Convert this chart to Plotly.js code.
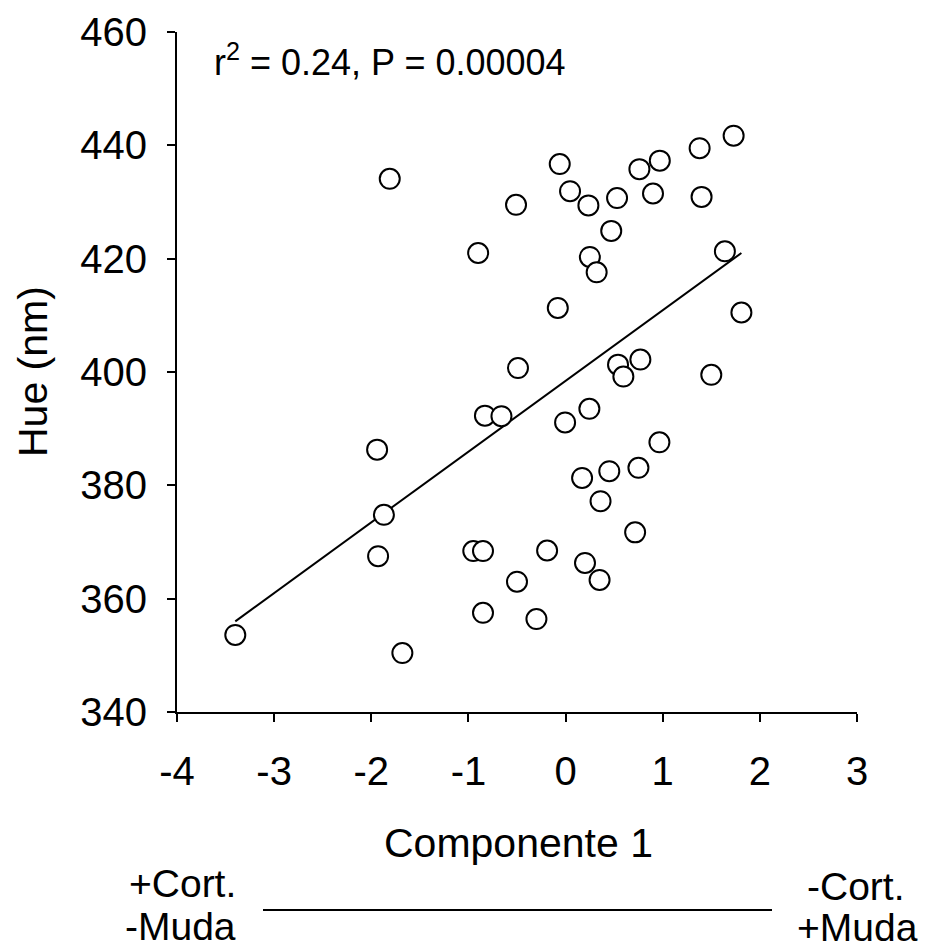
<!DOCTYPE html>
<html>
<head>
<meta charset="utf-8">
<script src="https://cdn.plot.ly/plotly-3.0.1.min.js"></script>
<style>html,body{margin:0;padding:0;background:#fff;}#chart{width:925px;height:951px;}</style>
</head>
<body>
<div id="chart"></div>
<script>
// Componente 1 (x) and Hue in nm (y)
const comp1 = [-3.40, -1.81, -1.94, -1.87, -1.93, -1.68, -0.90, -0.95, -0.85, -0.85,
  -0.83, -0.66, -0.51, -0.49, -0.50, -0.30, -0.19, -0.08, -0.06, -0.005,
  0.046, 0.17, 0.20, 0.235, 0.245, 0.25, 0.32, 0.35, 0.36, 0.45,
  0.47, 0.53, 0.54, 0.595, 0.716, 0.75, 0.76, 0.77, 0.90, 0.966,
  0.97, 1.38, 1.40, 1.50, 1.64, 1.73, 1.81];
const hue = [353.6, 434.1, 386.3, 374.8, 367.5, 350.4, 421.0, 368.4, 368.4, 357.5,
  392.3, 392.2, 429.5, 400.7, 363.0, 356.4, 368.5, 411.3, 436.7, 391.1,
  431.9, 381.3, 366.3, 429.4, 393.5, 420.3, 417.6, 363.3, 377.2, 382.5,
  424.9, 430.7, 401.3, 399.2, 371.7, 383.1, 435.8, 402.2, 431.5, 387.6,
  437.3, 439.5, 430.9, 399.5, 421.3, 441.7, 410.5];
// regression line end points
const fitX = [-3.40, 1.81];
const fitY = [356.0, 421.0];
const xTicks = [-4, -3, -2, -1, 0, 1, 2, 3];
const yTicks = [340, 360, 380, 400, 420, 440, 460];

const FONT = 'Liberation Sans, Arial, Helvetica, sans-serif';

const traces = [
  {x: fitX, y: fitY, mode: 'lines', type: 'scatter',
   line: {color: '#000', width: 2}, hoverinfo: 'skip', showlegend: false},
  {x: comp1, y: hue, mode: 'markers', type: 'scatter',
   marker: {symbol: 'circle', size: 20, color: '#fff', line: {color: '#000', width: 2}},
   showlegend: false, cliponaxis: false}
];

const axisCommon = {
  showgrid: false, zeroline: false, showline: true, linecolor: '#000', linewidth: 2,
  ticks: 'outside', ticklen: 8, tickwidth: 2, tickcolor: '#000',
  tickfont: {family: FONT, size: 40, color: '#000'}, fixedrange: true
};

const layout = {
  width: 925, height: 951,
  paper_bgcolor: '#fff', plot_bgcolor: '#fff',
  margin: {l: 177, r: 68, t: 32, b: 239},
  showlegend: false,
  xaxis: Object.assign({}, axisCommon, {range: [-4, 3], tickvals: xTicks, ticktext: xTicks.map(String), ticklabelstandoff: 15}),
  yaxis: Object.assign({}, axisCommon, {range: [340, 460], tickvals: yTicks, ticktext: yTicks.map(String), ticklabelstandoff: 12}),
  annotations: [
    {xref: 'paper', yref: 'paper', x: (212 - 177) / 680, y: (712 - 60) / 680, xanchor: 'left', yanchor: 'middle',
     text: 'r<sup>2</sup> = 0.24, P = 0.00004', showarrow: false, font: {family: FONT, size: 36, color: '#000'}},
    {xref: 'paper', yref: 'paper', x: (33 - 177) / 680, y: 0.5, xanchor: 'center', yanchor: 'middle', textangle: -90,
     text: 'Hue (nm)', showarrow: false, font: {family: FONT, size: 41, color: '#000'}},
    {xref: 'paper', yref: 'paper', x: (518 - 177) / 680, y: (712 - 843) / 680, xanchor: 'center', yanchor: 'middle',
     text: 'Componente 1', showarrow: false, font: {family: FONT, size: 41, color: '#000'}},
    {xref: 'paper', yref: 'paper', x: (182 - 177) / 680, y: (712 - 883) / 680, xanchor: 'center', yanchor: 'middle',
     text: '+Cort.', showarrow: false, font: {family: FONT, size: 39, color: '#000'}},
    {xref: 'paper', yref: 'paper', x: (180 - 177) / 680, y: (712 - 926) / 680, xanchor: 'center', yanchor: 'middle',
     text: '-Muda', showarrow: false, font: {family: FONT, size: 39, color: '#000'}},
    {xref: 'paper', yref: 'paper', x: (856 - 177) / 680, y: (712 - 886) / 680, xanchor: 'center', yanchor: 'middle',
     text: '-Cort.', showarrow: false, font: {family: FONT, size: 39, color: '#000'}},
    {xref: 'paper', yref: 'paper', x: (857 - 177) / 680, y: (712 - 927) / 680, xanchor: 'center', yanchor: 'middle',
     text: '+Muda', showarrow: false, font: {family: FONT, size: 39, color: '#000'}}
  ],
  shapes: [
    {type: 'line', xref: 'paper', yref: 'paper', x0: (263 - 177) / 680, x1: (772 - 177) / 680,
     y0: (712 - 910) / 680, y1: (712 - 910) / 680, line: {color: '#000', width: 2}}
  ]
};

Plotly.newPlot('chart', traces, layout, {staticPlot: true, displayModeBar: false});
</script>
</body>
</html>
